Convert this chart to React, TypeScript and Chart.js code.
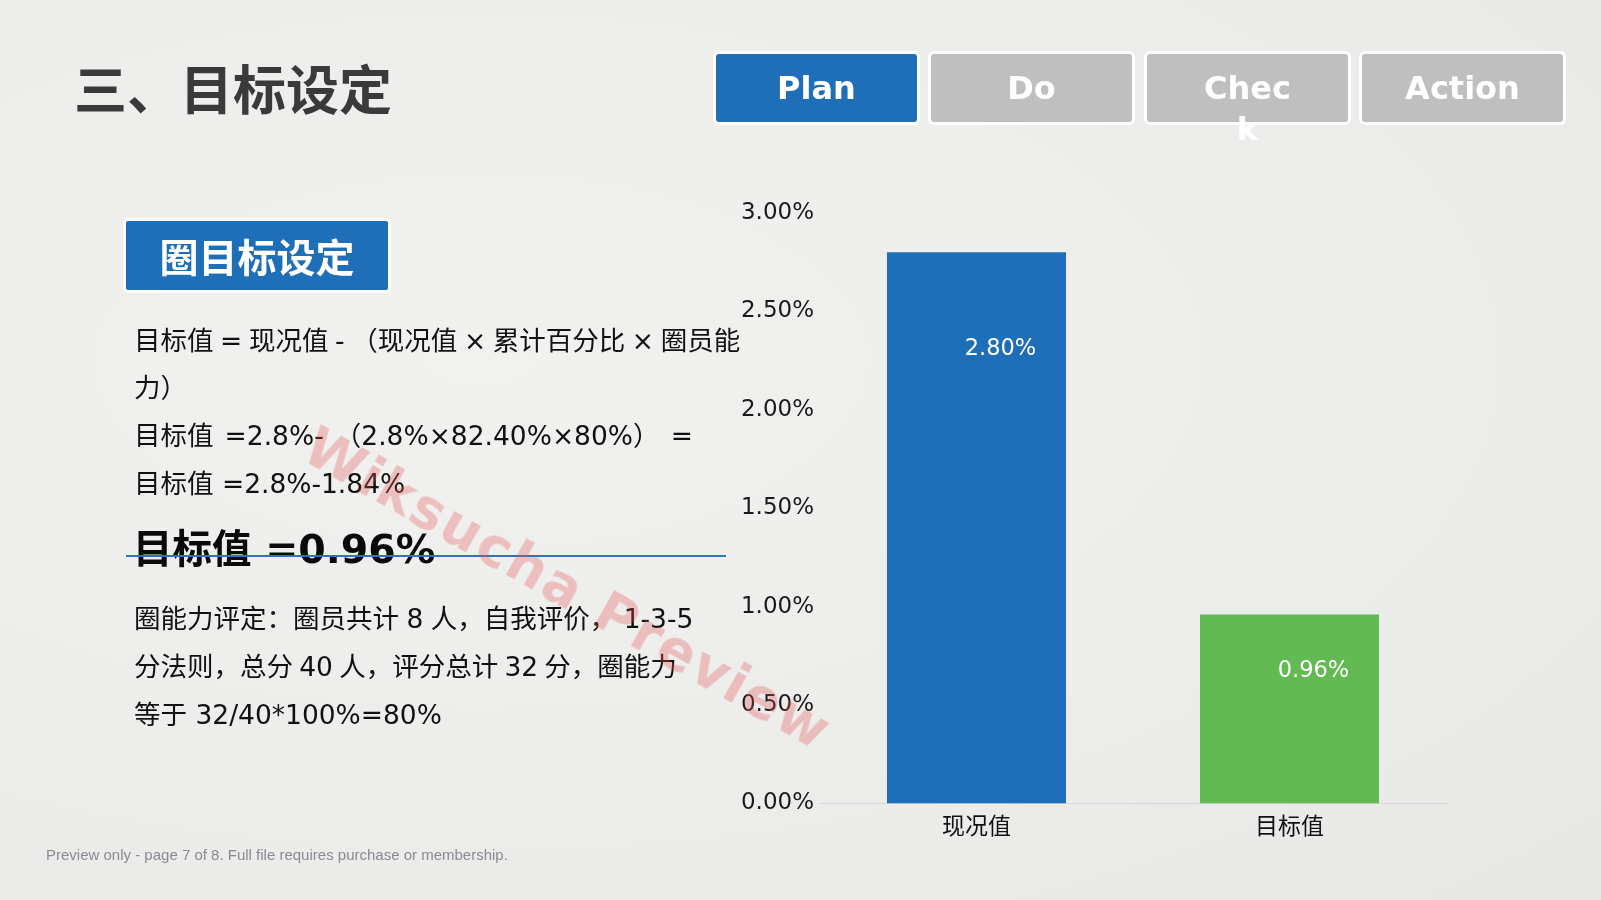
import React, { useEffect, useRef } from "react";
import { Chart, registerables } from "chart.js";

Chart.register(...registerables);

// ---- data ----
const categories: string[] = ["现况值", "目标值"];
const values: number[] = [2.8, 0.96];
const valueLabels: string[] = ["2.80%", "0.96%"];
const yMin = 0;
const yMax = 3;
const yStep = 0.5;
const pdcaTabs: string[][] = [["Plan"], ["Do"], ["Chec", "k"], ["Action"]];
const bodyLines: string[] = [
  "目标值 = 现况值 - （现况值 × 累计百分比 × 圈员能",
  "力）",
  "目标值 =2.8%- （2.8%×82.40%×80%） =",
  "目标值 =2.8%-1.84%",
];
const resultLine = "目标值 =0.96%";
const abilityLines: string[] = [
  "圈能力评定：圈员共计 8 人，自我评价， 1-3-5",
  "分法则，总分 40 人，评分总计 32 分，圈能力",
  "等于 32/40*100%=80%",
];

// ---- style ----
const barColors = ["#1f6eb8", "#63b952"];
const labelDx = 24;
const labelDy = [97, 57];
const bodyTops = [341, 388, 436, 484];
const bodyWordSpacing = [-1.8, 0, 2.7, 0];
const abilityTops = [619, 667, 715];
const abilityWordSpacing = [-1, -2.2, 0];
const CJK = '"Noto Sans CJK SC", "Noto Sans", sans-serif';
const DJV = '"DejaVu Sans", "Noto Sans CJK SC", sans-serif';

const valueLabelPlugin = {
  id: "valueLabels",
  afterDatasetsDraw(chart: any) {
    const ctx = chart.ctx;
    const meta = chart.getDatasetMeta(0);
    ctx.save();
    ctx.fillStyle = "#ffffff";
    ctx.font = "22.5px " + DJV;
    ctx.textAlign = "center";
    ctx.textBaseline = "middle";
    meta.data.forEach((el: any, i: number) => {
      ctx.fillText(valueLabels[i], el.x + labelDx, el.y + labelDy[i]);
    });
    ctx.restore();
  },
};

function BarChart() {
  const ref = useRef<HTMLCanvasElement | null>(null);
  useEffect(() => {
    if (!ref.current) return;
    const chart = new Chart(ref.current, {
      type: "bar",
      data: {
        labels: categories,
        datasets: [
          {
            data: values,
            backgroundColor: barColors,
            borderWidth: 0,
            categoryPercentage: 1,
            barPercentage: 0.572,
          },
        ],
      },
      options: {
        animation: false,
        responsive: false,
        devicePixelRatio: 1,
        layout: { padding: { top: 30, right: 37, bottom: 0, left: 0 } },
        plugins: {
          legend: { display: false },
          tooltip: { enabled: false },
        },
        scales: {
          x: {
            grid: { display: false, drawTicks: false },
            border: { display: true, color: "#d6d6d6", width: 1 },
            ticks: {
              color: "#111111",
              font: { family: CJK, size: 23 },
              padding: 8,
            },
            afterFit: (s: any) => {
              s.height = 59.5;
            },
          },
          y: {
            min: yMin,
            max: yMax,
            grid: { display: false, drawTicks: false },
            border: { display: false },
            ticks: {
              stepSize: yStep,
              color: "#1a1a1a",
              font: { family: DJV, size: 23 },
              padding: 6,
              callback: (v: any) => Number(v).toFixed(2) + "%",
            },
            afterFit: (s: any) => {
              s.width = 117;
            },
          },
        },
      },
      plugins: [valueLabelPlugin],
    } as any);
    return () => chart.destroy();
  }, []);
  return (
    <canvas
      ref={ref}
      width={780}
      height={680}
      style={{ position: "absolute", left: 703, top: 183, width: 780, height: 680 }}
    />
  );
}

const tabLefts = [716, 931, 1147, 1362];

export default function App() {
  const lineTop = (c: number, lh: number) => c - lh / 2;
  return (
    <div
      style={{
        position: "fixed",
        left: 0,
        top: 0,
        width: 1601,
        height: 900,
        overflow: "hidden",
        background:
          "radial-gradient(ellipse at 30% 40%, #f1f1f0 0%, #ececeb 60%, #e7e7e5 100%)",
        fontFamily: CJK,
      }}
    >
      {/* title */}
      <div
        style={{
          position: "absolute",
          left: 74,
          top: lineTop(87, 60),
          height: 60,
          lineHeight: "60px",
          fontSize: 53,
          fontWeight: 700,
          color: "#3a3a3a",
          whiteSpace: "nowrap",
        }}
      >
        三、目标设定
      </div>

      {/* PDCA tabs */}
      {pdcaTabs.map((t, i) => (
        <div
          key={i}
          style={{
            position: "absolute",
            left: tabLefts[i],
            top: 54,
            width: 201,
            height: 68,
            background: i === 0 ? "#1f6eb8" : "#bfbfbf",
            boxShadow: "0 0 0 3px rgba(255,255,255,0.9)",
            borderRadius: 3,
            color: "#ffffff",
            fontFamily: DJV,
            fontWeight: 700,
            fontSize: 32,
            lineHeight: "41px",
            textAlign: "center",
            paddingTop: 13.5,
            boxSizing: "border-box",
            overflow: "visible",
          }}
        >
          {t.map((s, j) => (
            <div key={j}>{s}</div>
          ))}
        </div>
      ))}

      {/* section box */}
      <div
        style={{
          position: "absolute",
          left: 126,
          top: 221,
          width: 262,
          height: 69,
          background: "#1f6eb8",
          boxShadow: "0 0 0 3px rgba(255,255,255,0.9)",
          borderRadius: 2,
          color: "#ffffff",
          fontSize: 39,
          fontWeight: 700,
          lineHeight: "69px",
          textAlign: "center",
        }}
      >
        圈目标设定
      </div>

      {/* body text */}
      {bodyLines.map((s, i) => (
        <div
          key={"b" + i}
          style={{
            position: "absolute",
            left: 134,
            top: lineTop(bodyTops[i], 40),
            lineHeight: "40px",
            fontSize: 26.5,
            fontFamily: DJV,
            wordSpacing: bodyWordSpacing[i],
            color: "#111111",
            whiteSpace: "pre",
          }}
        >
          {s}
        </div>
      ))}

      <div
        style={{
          position: "absolute",
          left: 133,
          top: lineTop(549, 50),
          lineHeight: "50px",
          fontSize: 39.5,
          fontWeight: 700,
          fontFamily: DJV,
          color: "#0a0a0a",
          whiteSpace: "pre",
        }}
      >
        {resultLine}
      </div>
      <div
        style={{
          position: "absolute",
          left: 126,
          top: 554.5,
          width: 600,
          height: 2,
          background: "#2e75b6",
        }}
      />

      {abilityLines.map((s, i) => (
        <div
          key={"a" + i}
          style={{
            position: "absolute",
            left: 134,
            top: lineTop(abilityTops[i], 40),
            lineHeight: "40px",
            fontSize: 26.5,
            fontFamily: DJV,
            wordSpacing: abilityWordSpacing[i],
            color: "#111111",
            whiteSpace: "pre",
          }}
        >
          {s}
        </div>
      ))}

      <BarChart />

      {/* watermark */}
      <div
        style={{
          position: "absolute",
          left: 568,
          top: 588,
          transform: "translate(-50%, -50%) rotate(29.5deg)",
          fontFamily: '"DejaVu Sans", sans-serif',
          fontWeight: 700,
          fontSize: 55,
          letterSpacing: 2,
          color: "rgba(228, 80, 80, 0.3)",
          whiteSpace: "nowrap",
          pointerEvents: "none",
        }}
      >
        Wiksucha Preview
      </div>

      {/* footer */}
      <div
        style={{
          position: "absolute",
          left: 46,
          top: 846,
          fontFamily: '"Liberation Sans", Arial, sans-serif',
          fontSize: 15,
          lineHeight: "18px",
          color: "#8a8a96",
          whiteSpace: "nowrap",
        }}
      >
        Preview only - page 7 of 8. Full file requires purchase or membership.
      </div>
    </div>
  );
}
